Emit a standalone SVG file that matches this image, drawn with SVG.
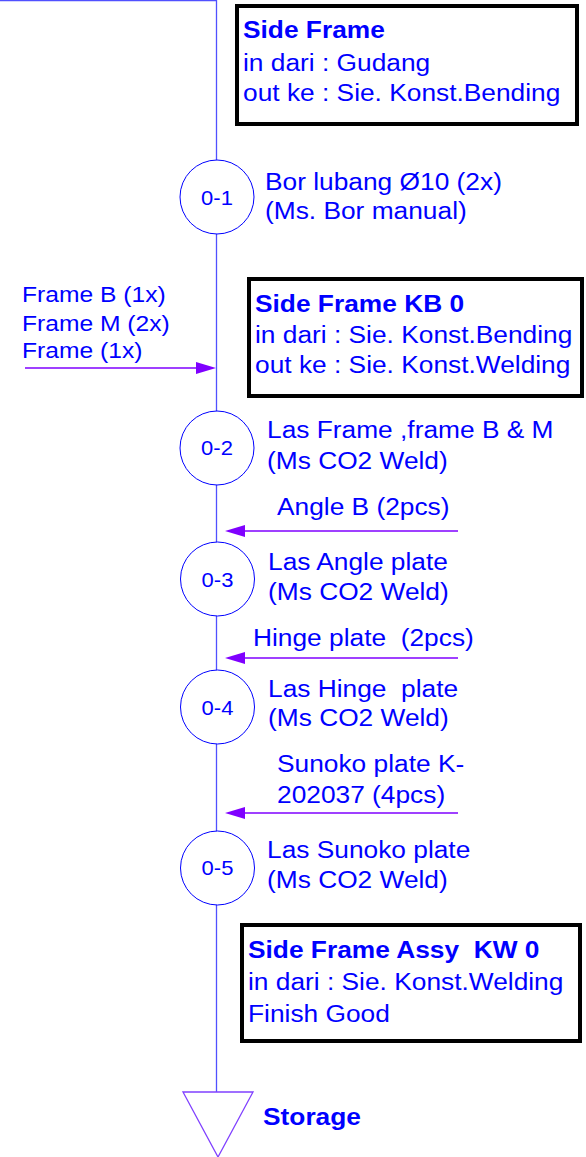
<svg xmlns="http://www.w3.org/2000/svg" width="586" height="1157" viewBox="0 0 586 1157">
<style>
text{font-family:"Liberation Sans",Arial,sans-serif;fill:#0000ff;white-space:pre}
.t{font-size:23.5px}
.s{font-size:22px}
.b{font-size:23.5px;font-weight:bold}
.c{font-size:20px;text-anchor:middle}
.box{fill:#ffffff;stroke:#000000;stroke-width:4}
.op{fill:#ffffff;stroke:#0000ff;stroke-width:1}
.flow{stroke:#5050ff;stroke-width:1.3;fill:none}
.in{stroke:#7f00ff;stroke-width:1.3;fill:none}
.head{fill:#7f00ff}
</style>
<g id="connectors">
<line class="flow" x1="0" y1="0.5" x2="216.5" y2="0.5" stroke="#a0a0ff"/>
<line class="flow" x1="216.5" y1="0" x2="216.5" y2="1092"/>
<line class="in" x1="25" y1="368" x2="198" y2="368"/>
<polygon class="head" points="196,362 216,368 196,374"/>
<line class="in" x1="458" y1="531" x2="243" y2="531"/>
<polygon class="head" points="245,525 225,531 245,537"/>
<line class="in" x1="458" y1="658" x2="243" y2="658"/>
<polygon class="head" points="245,652 225,658 245,664"/>
<line class="in" x1="458" y1="813" x2="243" y2="813"/>
<polygon class="head" points="245,807 225,813 245,819"/>
</g>
<g id="box1">
<rect class="box" x="237" y="6" width="340" height="118"/>
<text class="b" transform="translate(243 38) scale(1.12 1)">Side Frame</text>
<text class="t" transform="translate(243 71) scale(1.12 1)">in dari : Gudang</text>
<text class="t" transform="translate(243 101) scale(1.12 1)">out ke : Sie. Konst.Bending</text>
</g>
<g id="op01">
<circle class="op" cx="217" cy="197" r="37"/>
<text class="c" transform="translate(217 205) scale(1.1 1)">0-1</text>
<text class="t" transform="translate(265 190) scale(1.12 1)">Bor lubang Ø10 (2x)</text>
<text class="t" transform="translate(265 219) scale(1.12 1)">(Ms. Bor manual)</text>
</g>
<g id="input1">
<text class="s" transform="translate(22 302) scale(1.12 1)">Frame B (1x)</text>
<text class="s" transform="translate(22 331) scale(1.12 1)">Frame M (2x)</text>
<text class="s" transform="translate(22 358) scale(1.12 1)">Frame (1x)</text>
</g>
<g id="box2">
<rect class="box" x="249" y="279" width="333" height="117"/>
<text class="b" transform="translate(255 312) scale(1.12 1)">Side Frame KB 0</text>
<text class="t" transform="translate(255 343) scale(1.12 1)">in dari : Sie. Konst.Bending</text>
<text class="t" transform="translate(255 373) scale(1.12 1)">out ke : Sie. Konst.Welding</text>
</g>
<g id="op02">
<circle class="op" cx="217" cy="448" r="37"/>
<text class="c" transform="translate(217 455) scale(1.1 1)">0-2</text>
<text class="t" transform="translate(267 438) scale(1.12 1)">Las Frame ,frame B &amp; M</text>
<text class="t" transform="translate(267 469) scale(1.12 1)">(Ms CO2 Weld)</text>
</g>
<g id="input2">
<text class="t" transform="translate(277 515) scale(1.12 1)">Angle B (2pcs)</text>
</g>
<g id="op03">
<circle class="op" cx="217.5" cy="579" r="37"/>
<text class="c" transform="translate(217.5 587) scale(1.1 1)">0-3</text>
<text class="t" transform="translate(268 570) scale(1.12 1)">Las Angle plate</text>
<text class="t" transform="translate(268 600) scale(1.12 1)">(Ms CO2 Weld)</text>
</g>
<g id="input3">
<text class="t" transform="translate(253 646) scale(1.12 1)">Hinge plate  (2pcs)</text>
</g>
<g id="op04">
<circle class="op" cx="217.5" cy="707" r="37"/>
<text class="c" transform="translate(217.5 715) scale(1.1 1)">0-4</text>
<text class="t" transform="translate(268 697) scale(1.12 1)">Las Hinge  plate</text>
<text class="t" transform="translate(268 726) scale(1.12 1)">(Ms CO2 Weld)</text>
</g>
<g id="input4">
<text class="t" transform="translate(277 772) scale(1.12 1)">Sunoko plate K-</text>
<text class="t" transform="translate(277 803) scale(1.12 1)">202037 (4pcs)</text>
</g>
<g id="op05">
<circle class="op" cx="217.5" cy="868" r="37"/>
<text class="c" transform="translate(217.5 875) scale(1.1 1)">0-5</text>
<text class="t" transform="translate(267 858) scale(1.12 1)">Las Sunoko plate</text>
<text class="t" transform="translate(267 888) scale(1.12 1)">(Ms CO2 Weld)</text>
</g>
<g id="box3">
<rect class="box" x="242" y="925" width="338" height="116"/>
<text class="b" transform="translate(248 958) scale(1.12 1)">Side Frame Assy  KW 0</text>
<text class="t" transform="translate(248 990) scale(1.12 1)">in dari : Sie. Konst.Welding</text>
<text class="t" transform="translate(248 1022) scale(1.12 1)">Finish Good</text>
</g>
<g id="storage">
<polygon points="183,1092 253,1092 218,1157" fill="#ffffff" stroke="#8040ff" stroke-width="1.3"/>
<text class="b" transform="translate(263 1125) scale(1.12 1)">Storage</text>
</g>
</svg>
